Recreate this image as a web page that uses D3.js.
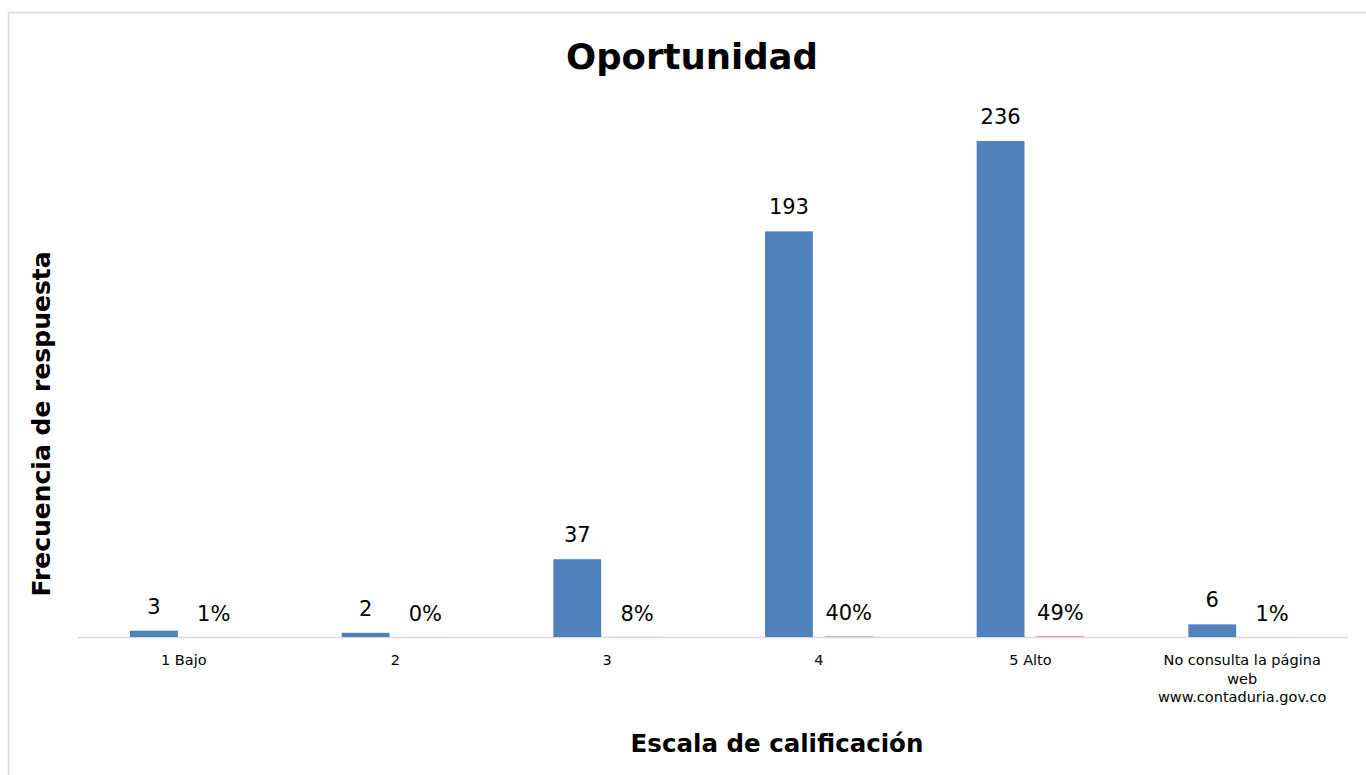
<!DOCTYPE html>
<html>
<head>
<meta charset="utf-8">
<script src="https://cdn.jsdelivr.net/npm/d3@7"></script>
<style>
  body { margin: 0; background: #fff; }
  text { font-family: "DejaVu Sans", sans-serif; fill: #000; }
</style>
</head>
<body>
<svg id="chart" width="1366" height="775"></svg>
<script>
"use strict";

// categories and values
var categories = ["1 Bajo", "2", "3", "4", "5 Alto", "No consulta la página web www.contaduria.gov.co"];
var categoryLines = [["1 Bajo"], ["2"], ["3"], ["4"], ["5 Alto"], ["No consulta la página", "web", "www.contaduria.gov.co"]];
var counts = [3, 2, 37, 193, 236, 6];
var shares = [0.01, 0.004, 0.08, 0.40, 0.49, 0.01];
var seriesNames = ["Frecuencia", "Porcentaje"];

var svg = d3.select("#chart");

// outer chart frame
svg.append("rect")
  .attr("x", 8.5).attr("y", 12.5)
  .attr("width", 1400).attr("height", 800)
  .attr("fill", "#fff")
  .attr("stroke", "#d9d9d9")
  .attr("stroke-width", 1.5);

let plotLeft = 78, plotRight = 1348, baseY = 637;

var x = d3.scaleBand()
  .domain(categories)
  .range([plotLeft, plotRight])
  .paddingInner(0)
  .paddingOuter(0);

var inner = d3.scaleBand()
  .domain(seriesNames)
  .range([52, x.bandwidth() - 52])
  .paddingInner(0.2);

var y = d3.scaleLinear()
  .domain([0, 250])
  .range([baseY, baseY - 250 * 496 / 236]);

// baseline
svg.append("line")
  .attr("x1", plotLeft).attr("x2", plotRight)
  .attr("y1", baseY + 0.5).attr("y2", baseY + 0.5)
  .attr("stroke", "#d9d9d9")
  .attr("stroke-width", 1.5);

var groups = svg.selectAll(".grp").data(categories)
  .enter()
  .append("g")
  .attr("class", "grp")
  .attr("transform", function(d) { return "translate(" + x(d) + ",0)"; });

// count bars
groups.append("rect")
  .attr("x", inner(seriesNames[0]))
  .attr("width", inner.bandwidth())
  .attr("y", function(d, i) { return y(counts[i]); })
  .attr("height", function(d, i) { return baseY - y(counts[i]); })
  .attr("fill", "#4F81BD");

// share bars (on same axis, so nearly flat)
groups.append("rect")
  .attr("x", inner(seriesNames[1]))
  .attr("width", inner.bandwidth())
  .attr("y", function(d, i) { return y(shares[i]); })
  .attr("height", function(d, i) { return baseY - y(shares[i]); })
  .attr("fill", "#C0504D")
  .attr("opacity", 0.5);

// count labels
groups.append("text")
  .attr("x", inner(seriesNames[0]) + inner.bandwidth() / 2)
  .attr("y", function(d, i) { return y(counts[i]) - 17; })
  .attr("text-anchor", "middle")
  .attr("font-size", 21)
  .text(function(d, i) { return counts[i]; });

// share labels
groups.append("text")
  .attr("x", inner(seriesNames[1]) + inner.bandwidth() / 2)
  .attr("y", function(d, i) { return y(shares[i]) - 16; })
  .attr("text-anchor", "middle")
  .attr("font-size", 21)
  .text(function(d, i) { return Math.round(shares[i] * 100) + "%"; });

// category labels
groups.append("text")
  .attr("text-anchor", "middle")
  .attr("font-size", 14.5)
  .attr("y", 665)
  .each(function(d, i) {
    let t = d3.select(this);
    categoryLines[i].forEach(function(line, j) {
      t.append("tspan")
        .attr("x", x.bandwidth() / 2)
        .attr("dy", j == 0 ? 0 : 18.5)
        .text(line);
    });
  });

// titles
svg.append("text")
  .attr("x", 692).attr("y", 69)
  .attr("text-anchor", "middle")
  .attr("font-size", 35.5)
  .attr("font-weight", "bold")
  .text("Oportunidad");

svg.append("text")
  .attr("x", 777).attr("y", 752)
  .attr("text-anchor", "middle")
  .attr("font-size", 24.5)
  .attr("font-weight", "bold")
  .text("Escala de calificación");

svg.append("text")
  .attr("transform", "translate(50,424) rotate(-90)")
  .attr("text-anchor", "middle")
  .attr("font-size", 25)
  .attr("font-weight", "bold")
  .text("Frecuencia de respuesta");
</script>
</body>
</html>
